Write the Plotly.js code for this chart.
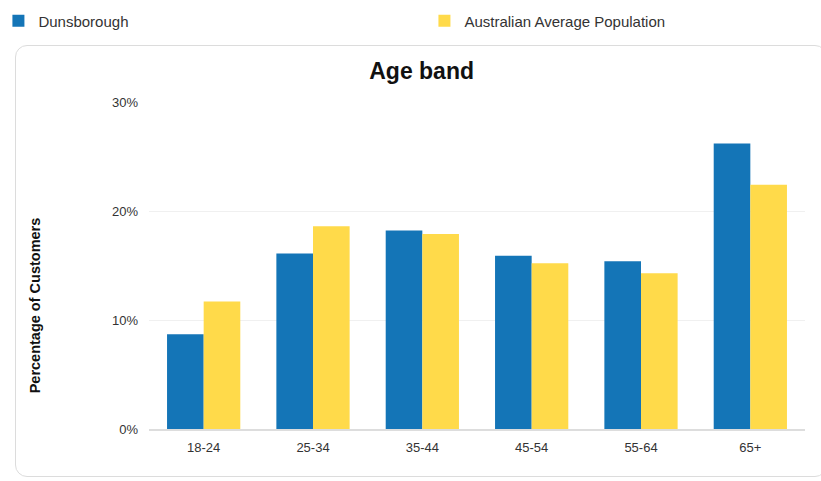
<!DOCTYPE html>
<html>
<head>
<meta charset="utf-8">
<script src="https://cdn.plot.ly/plotly-3.0.1.min.js"></script>
<style>
  html, body { margin: 0; padding: 0; background: #ffffff; }
  #wrap { position: relative; width: 821px; height: 481px; overflow: hidden; }
  #card {
    position: absolute; left: 15px; top: 45px; width: 812px; height: 432px;
    border: 1.5px solid #dcdcdc; border-radius: 12px; box-sizing: border-box;
    z-index: 0;
  }
  #chart { position: absolute; left: 0; top: 0; width: 821px; height: 481px; z-index: 1; }
</style>
</head>
<body>
<div id="wrap">
  <div id="card"></div>
  <div id="chart"></div>
</div>
<script>
// Age bands and share of customers (%) per band
const ageBands = ["18-24", "25-34", "35-44", "45-54", "55-64", "65+"];
const dunsborough = [8.7, 16.1, 18.2, 15.9, 15.4, 26.2];
const australianAverage = [11.7, 18.6, 17.9, 15.2, 14.3, 22.4];
const yTickValues = [0, 10, 20, 30];
const yTickLabels = ["0%", "10%", "20%", "30%"];

const BLUE = "#1475b7";
const YELLOW = "#ffda4a";
const FONT = "Liberation Sans, Arial, sans-serif";

const traces = [
  {
    type: "bar", name: "Dunsborough", x: ageBands, y: dunsborough,
    marker: { color: BLUE, line: { width: 0 } },
    legend: "legend"
  },
  {
    type: "bar", name: "Australian Average Population", x: ageBands, y: australianAverage,
    marker: { color: YELLOW, line: { width: 0 } },
    legend: "legend2"
  }
];

const W = 821, H = 481;
const m = { l: 149.4, r: 16.4, t: 102.3, b: 52, autoexpand: false };
const pw = W - m.l - m.r, ph = H - m.t - m.b;
const px = v => (v - m.l) / pw;        // pixel x -> paper x
const py = v => (H - m.b - v) / ph;    // pixel y -> paper y

const legendStyle = {
  orientation: "h",
  xanchor: "left", yanchor: "top",
  font: { family: FONT, size: 15, color: "#333333" },
  bgcolor: "rgba(0,0,0,0)"
};

const layout = {
  width: W, height: H,
  margin: m,
  paper_bgcolor: "rgba(0,0,0,0)",
  plot_bgcolor: "rgba(0,0,0,0)",
  font: { family: FONT, size: 13, color: "#333333" },
  barmode: "group",
  bargap: 0.33,
  bargroupgap: 0,
  title: {
    text: "<b>Age band</b>",
    font: { family: FONT, size: 23, color: "#111111" },
    x: px(421.7), xref: "paper", xanchor: "center",
    y: 1 - 70.5 / H, yref: "container", yanchor: "middle"
  },
  xaxis: {
    type: "category",
    showgrid: false,
    showline: true, linecolor: "#dddddd", linewidth: 1.5,
    ticks: "", tickfont: { family: FONT, size: 13, color: "#333333" },
    ticklabelstandoff: 6,
    fixedrange: true
  },
  yaxis: {
    range: [0, 30],
    tickvals: yTickValues, ticktext: yTickLabels,
    showgrid: true, gridcolor: "#f0f0f0", gridwidth: 1,
    zeroline: false, showline: false,
    ticks: "", tickfont: { family: FONT, size: 13, color: "#333333" },
    ticklabelstandoff: 10,
    fixedrange: true
  },
  showlegend: true,
  legend: Object.assign({}, legendStyle, { x: px(-1), y: py(5) }),
  legend2: Object.assign({}, legendStyle, { x: px(424.5), y: py(5) }),
  annotations: [
    {
      text: "<b>Percentage of Customers</b>",
      xref: "paper", yref: "paper",
      x: px(35), y: py(305),
      xanchor: "center", yanchor: "middle",
      textangle: -90, showarrow: false,
      font: { family: FONT, size: 14.5, color: "#111111" }
    }
  ]
};

Plotly.newPlot("chart", traces, layout, { displayModeBar: false, staticPlot: true });
</script>
</body>
</html>
